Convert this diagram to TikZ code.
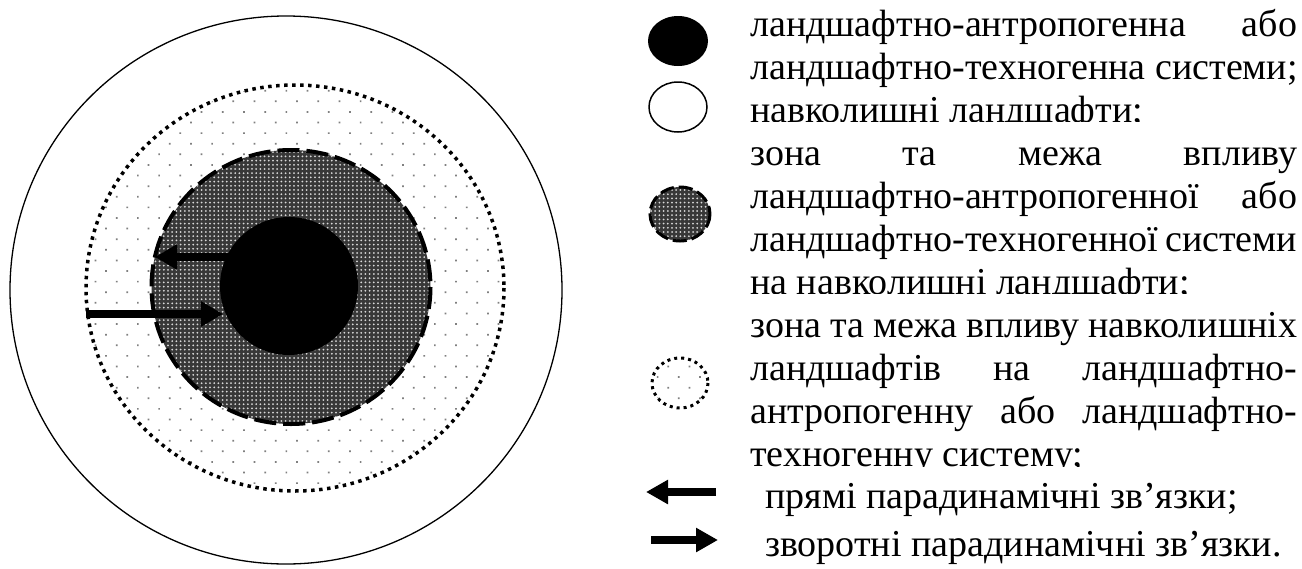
\documentclass[tikz,border=0pt]{standalone}
\usepackage{fontspec}
\setmainfont{Liberation Serif}
\usetikzlibrary{patterns.meta,arrows.meta,shapes.geometric}
\tikzset{
  lighthatch/.style={pattern={Dots[distance=15pt,angle=45,radius=1.2pt]},pattern color=black!50},
  darkfill/.style={fill=black!78},
  darkdots/.style={pattern={Dots[distance=4.2pt,radius=1pt]},pattern color=white!85!black},
  dotborder/.style={line width=3.5pt,dash pattern=on 3.5pt off 4.5pt},
  dashborder/.style={line width=4pt,dash pattern=on 22pt off 7pt},
  bigarrow/.style={line width=8pt,-{Triangle[length=22pt,width=24pt]}},
  legtext/.style={font=\fontsize{38}{43}\selectfont,anchor=base west,inner sep=0pt},
}
\newcommand{\jline}[1]{\makebox[547pt][s]{#1}}
\begin{document}
\begin{tikzpicture}[x=1pt,y=-1pt]
\useasboundingbox (0,0) rectangle (1302,568);
% main picture
\draw[line width=1.3pt] (286,290) ellipse [x radius=276,y radius=274];
\path[fill=white] (295,288) ellipse [x radius=209,y radius=203];
\path[lighthatch] (295,288) ellipse [x radius=209,y radius=203];
\draw[dotborder] (295,288) ellipse [x radius=209,y radius=203];
\path[darkfill] (291,287) ellipse [x radius=139.5,y radius=137];
\path[darkdots] (291,287) ellipse [x radius=139.5,y radius=137];
\draw[dashborder] (291,287) ellipse [x radius=139.5,y radius=137];
\node[circle,fill=black,minimum size=138pt,inner sep=0pt] (core) at (289,286) {};
\coordinate (a1s) at (234,257);
\coordinate (a1e) at (155,257);
\coordinate (a2s) at (86,314);
\coordinate (a2e) at (223,314);
\draw[bigarrow] (a1s) -- (a1e);
\draw[bigarrow] (a2s) -- (a2e);
% legend symbols
\node[ellipse,fill=black,minimum width=60pt,minimum height=50pt,inner sep=0pt] (lgblack) at (678,41) {};
\draw[line width=1.5pt] (678,107) ellipse [x radius=29,y radius=25];
\coordinate (lgwhite) at (678,107);
\path[darkfill] (680,214) ellipse [x radius=30,y radius=27];
\path[darkdots] (680,214) ellipse [x radius=30,y radius=27];
\draw[line width=3pt,dash pattern=on 14pt off 5pt] (680,214) ellipse [x radius=30,y radius=27];
\coordinate (lggray) at (680,214);
\path[lighthatch] (680,383) ellipse [x radius=28,y radius=25];
\draw[line width=3pt,dash pattern=on 3pt off 4pt] (680,383) ellipse [x radius=28,y radius=25];
\coordinate (lgdot) at (680,383);
\coordinate (l1s) at (716,492);
\coordinate (l1e) at (646,492);
\coordinate (l2s) at (651,540);
\coordinate (l2e) at (718,540);
\draw[line width=8pt,-{Triangle[length=22pt,width=23pt]}] (l1s) -- (l1e);
\draw[line width=8pt,-{Triangle[length=22pt,width=23pt]}] (l2s) -- (l2e);
% legend text
\node[legtext] (t1) at (750,36) {\jline{ландшафтно-антропогенна або}};
\node[legtext] (t2) at (750,79) {ландшафтно-техногенна системи;};
\begin{scope}
\clip (740,84) rectangle (1302,121);
\node[legtext] (t3) at (750,122) {навколишні ландшафти;};
\end{scope}
\node[legtext] (t4) at (750,165) {\jline{зона та межа впливу}};
\node[legtext] (t5) at (750,208) {\jline{ландшафтно-антропогенної або}};
\node[legtext] (t6) at (750,251) {\jline{ландшафтно-техногенної системи}};
\begin{scope}
\clip (740,256) rectangle (1302,293);
\node[legtext] (t7) at (750,294) {на навколишні ландшафти;};
\end{scope}
\node[legtext] (t8) at (750,337) {\jline{зона та межа впливу навколишніх}};
\node[legtext] (t9) at (750,380) {\jline{ландшафтів на ландшафтно-}};
\node[legtext] (t10) at (750,423) {\jline{антропогенну або ландшафтно-}};
\begin{scope}
\clip (740,428) rectangle (1302,466);
\node[legtext] (t11) at (750,466) {техногенну систему;};
\end{scope}
\node[legtext] (t12) at (765,508) {прямі парадинамічні зв’язки;};
\node[legtext] (t13) at (765,556) {зворотні парадинамічні зв’язки.};
\end{tikzpicture}
\end{document}
